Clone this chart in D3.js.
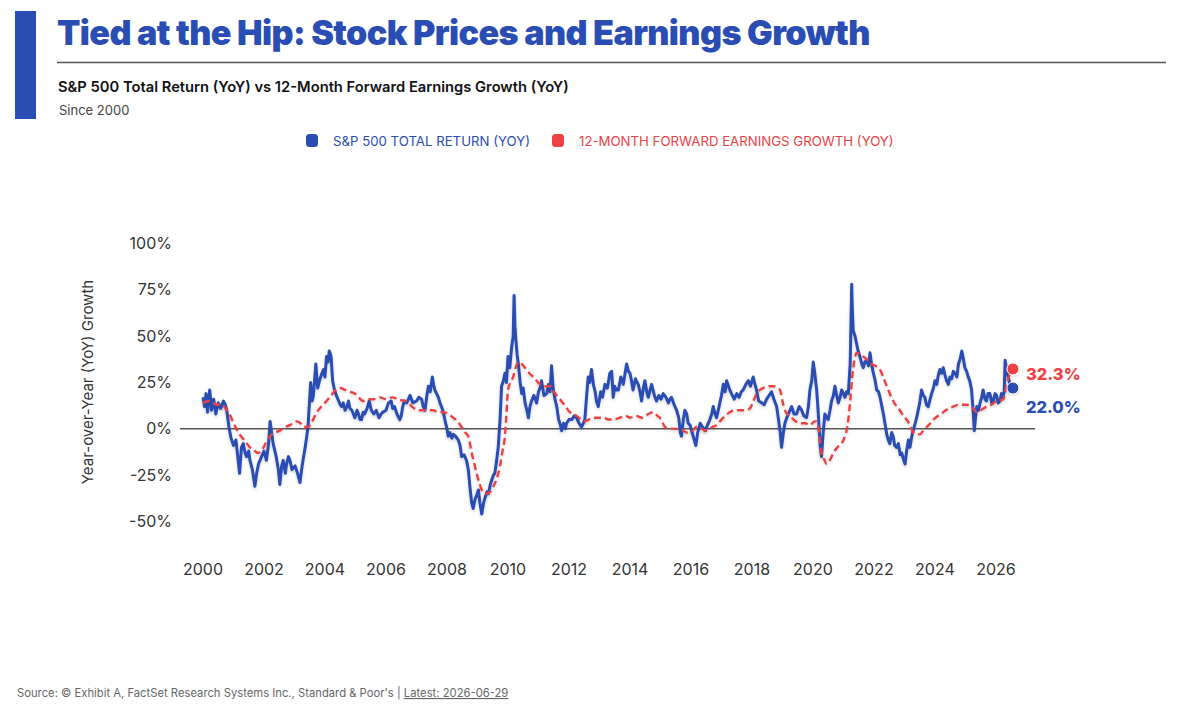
<!DOCTYPE html>
<html>
<head>
<meta charset="utf-8">
<script src="https://cdn.jsdelivr.net/npm/d3@7"></script>
<style>
  body { margin: 0; background: #fff; }
  text { font-family: Inter, "Noto Sans", sans-serif; }
</style>
</head>
<body>
<div id="chart"></div>
<script>
let width = 1200, height = 708;

// S&P 500 total return yoy, [decimal year, %]
const spxTimes = [
  2000.00,2000.05,2000.10,2000.15,2000.22,2000.28,2000.35,2000.42,2000.50,2000.58,2000.67,2000.73,2000.78,2000.85,2000.92,
  2001.00,2001.08,2001.14,2001.20,2001.26,2001.32,2001.38,2001.43,2001.50,2001.54,2001.62,2001.70,2001.76,2001.82,2001.92,
  2002.00,2002.08,2002.15,2002.20,2002.25,2002.30,2002.40,2002.47,2002.52,2002.58,2002.63,2002.70,2002.74,2002.80,2002.85,2002.92,
  2003.02,2003.10,2003.18,2003.25,2003.35,2003.42,2003.45,2003.53,2003.58,2003.62,2003.70,2003.76,2003.82,2003.90,2003.95,
  2004.00,2004.05,2004.10,2004.14,2004.20,2004.25,2004.30,2004.35,2004.40,2004.45,2004.50,2004.55,2004.60,2004.66,2004.72,2004.77,2004.82,2004.88,2004.93,2004.98,
  2005.05,2005.10,2005.15,2005.20,2005.25,2005.30,2005.38,2005.45,2005.52,2005.60,2005.68,2005.77,2005.84,2005.90,
  2006.00,2006.08,2006.17,2006.22,2006.28,2006.36,2006.45,2006.50,2006.55,2006.60,2006.68,2006.79,2006.88,
  2007.00,2007.08,2007.17,2007.22,2007.28,2007.34,2007.39,2007.45,2007.52,2007.56,2007.60,2007.66,2007.72,2007.77,2007.82,2007.88,2007.93,
  2008.00,2008.04,2008.10,2008.16,2008.21,2008.28,2008.37,2008.43,2008.48,2008.56,2008.64,2008.70,2008.75,2008.81,2008.86,2008.92,2008.97,
  2009.03,2009.08,2009.14,2009.20,2009.25,2009.31,2009.36,2009.42,2009.46,2009.52,2009.57,2009.62,2009.68,2009.74,2009.79,2009.85,2009.90,2009.95,
  2010.00,2010.06,2010.12,2010.17,2010.20,2010.23,2010.26,2010.30,2010.34,2010.40,2010.45,2010.50,2010.56,2010.62,2010.67,2010.72,2010.77,2010.85,2010.94,
  2011.00,2011.05,2011.10,2011.18,2011.27,2011.33,2011.38,2011.43,2011.48,2011.54,2011.60,2011.66,2011.72,2011.76,2011.82,2011.88,2011.92,
  2012.00,2012.09,2012.17,2012.25,2012.33,2012.41,2012.47,2012.52,2012.58,2012.63,2012.68,2012.74,2012.80,2012.86,2012.90,2012.96,
  2013.04,2013.10,2013.18,2013.26,2013.34,2013.40,2013.45,2013.50,2013.55,2013.62,2013.70,2013.78,2013.84,2013.89,2013.95,
  2014.00,2014.05,2014.10,2014.18,2014.27,2014.33,2014.38,2014.44,2014.49,2014.55,2014.60,2014.66,2014.71,2014.80,2014.87,2014.95,
  2015.02,2015.09,2015.18,2015.26,2015.31,2015.36,2015.45,2015.53,2015.60,2015.65,2015.69,2015.75,2015.80,2015.86,2015.91,2015.97,
  2016.02,2016.09,2016.16,2016.22,2016.30,2016.38,2016.46,2016.54,2016.62,2016.68,2016.73,2016.79,2016.84,2016.92,
  2017.00,2017.06,2017.12,2017.17,2017.25,2017.33,2017.42,2017.50,2017.58,2017.65,2017.71,2017.80,2017.88,2017.95,
  2018.04,2018.08,2018.15,2018.22,2018.32,2018.40,2018.48,2018.56,2018.64,2018.72,2018.81,2018.87,2018.92,2018.97,
  2019.03,2019.08,2019.14,2019.22,2019.30,2019.38,2019.46,2019.55,2019.63,2019.70,2019.79,2019.85,2019.90,2019.96,
  2020.01,2020.06,2020.12,2020.16,2020.20,2020.24,2020.28,2020.33,2020.39,2020.45,2020.50,2020.56,2020.61,2020.67,2020.72,2020.78,2020.83,2020.89,2020.94,
  2021.00,2021.05,2021.10,2021.16,2021.20,2021.22,2021.25,2021.27,2021.29,2021.32,2021.38,2021.43,2021.48,2021.54,2021.60,2021.65,2021.70,2021.76,2021.82,2021.87,2021.92,2021.98,
  2022.04,2022.09,2022.15,2022.20,2022.26,2022.31,2022.36,2022.42,2022.47,2022.52,2022.58,2022.63,2022.68,2022.74,2022.80,2022.86,2022.91,2022.96,
  2023.02,2023.07,2023.13,2023.18,2023.24,2023.30,2023.35,2023.40,2023.45,2023.50,2023.56,2023.62,2023.67,2023.72,2023.78,2023.84,2023.89,2023.95,
  2024.00,2024.06,2024.11,2024.16,2024.22,2024.27,2024.33,2024.38,2024.44,2024.49,2024.55,2024.60,2024.66,2024.72,2024.77,2024.83,2024.88,2024.93,2024.98,
  2025.04,2025.09,2025.14,2025.20,2025.25,2025.29,2025.33,2025.37,2025.43,2025.48,2025.53,2025.58,2025.64,2025.69,2025.74,2025.80,2025.86,2025.91,2025.97,
  2026.02,2026.07,2026.13,2026.18,2026.22,2026.27,2026.30,2026.35,2026.40,2026.49
];
const spxValues = [
  17,12,19,9,21,10,16,8,14,11,15,13,10,1,-5,
  -9,-6,-15,-24,-10,-8,-13,-15,-12,-17,-22,-31,-24,-19,-15,
  -12,-17,-8,4,-2,-8,-15,-22,-30,-20,-17,-24,-19,-15,-17,-22,
  -20,-24,-29,-20,-10,-2,3,25,15,18,35,22,26,30,32,
  28,39,36,42,39,26,22,19,17,15,13,12,14,10,12,15,11,10,8,6,
  10,8,5,5,9,8,11,15,10,8,10,6,8,9,
  10,14,15,11,12,8,5,7,12,15,14,18,14,
  15,17,16,12,10,18,23,20,28,24,21,19,17,14,12,9,5,
  0,-4,-2,-5,-3,-4,-6,-9,-15,-14,-17,-22,-31,-40,-43,-38,-36,
  -33,-40,-46,-40,-37,-34,-35,-30,-28,-25,-24,-18,-10,5,23,26,30,25,
  39,33,44,50,72,55,48,40,35,25,19,22,14,10,6,12,15,18,14,
  20,22,26,18,19,24,20,34,22,16,12,5,2,-1,3,0,3,
  5,5,7,6,3,1,3,5,18,28,25,32,24,20,15,12,
  20,17,24,22,30,31,17,23,21,21,28,24,30,35,31,
  30,26,21,27,24,20,15,22,26,20,17,21,24,18,15,18,
  16,19,17,14,16,17,13,10,6,-2,-4,5,10,8,3,2,
  -1,-5,-9,-2,3,1,-1,2,5,8,12,8,6,12,
  18,24,20,26,22,19,16,19,17,20,21,24,26,23,
  28,25,21,15,14,13,16,18,20,16,12,5,-1,-10,
  -2,3,6,9,12,8,8,12,10,7,6,12,21,26,
  36,30,21,12,1,-10,-15,-3,8,6,5,10,15,18,23,18,14,17,21,
  19,17,20,19,30,35,60,78,65,53,50,46,42,39,35,33,36,37,34,41,35,30,
  26,21,20,17,12,8,3,-3,-6,-8,-2,-4,-9,-10,-8,-14,-13,-16,
  -19,-12,-6,-10,-4,0,3,6,10,14,21,18,17,13,12,16,19,22,
  26,24,29,32,30,33,29,26,24,28,27,31,30,28,35,38,42,38,33,
  31,28,26,21,10,-1,6,12,10,14,17,21,16,15,19,19,14,15,19,
  18,14,15,19,17,20,37,32,28,22.0
];

// 12-month forward earnings growth yoy, [decimal year, %]
const epsTimes = [
  2000.00,2000.20,2000.45,2000.62,2000.78,2000.90,2001.00,2001.10,2001.20,2001.35,2001.54,2001.70,2001.80,2001.95,
  2002.08,2002.20,2002.35,2002.52,2002.70,2002.85,2003.07,2003.20,2003.30,2003.45,2003.58,2003.70,2003.88,
  2004.05,2004.20,2004.35,2004.50,2004.66,2004.82,2004.98,2005.10,2005.25,2005.45,2005.60,2005.80,
  2006.00,2006.20,2006.45,2006.65,2006.85,2007.05,2007.30,2007.55,2007.70,2007.88,
  2008.05,2008.20,2008.35,2008.48,2008.60,2008.70,2008.81,2008.90,2008.97,2009.06,2009.14,2009.30,2009.42,2009.52,2009.63,2009.74,2009.82,2009.90,2009.95,
  2010.00,2010.08,2010.17,2010.25,2010.34,2010.45,2010.56,2010.70,2010.83,2011.05,2011.20,2011.38,2011.50,2011.60,2011.80,
  2012.03,2012.25,2012.40,2012.52,2012.65,2012.80,2013.00,2013.12,2013.30,2013.45,2013.67,2013.85,
  2014.00,2014.20,2014.40,2014.60,2014.76,2014.90,2014.98,2015.08,2015.15,2015.42,2015.64,2015.86,
  2016.05,2016.18,2016.35,2016.51,2016.70,2016.84,2016.95,2017.06,2017.28,2017.45,2017.60,2017.80,2017.93,
  2018.05,2018.15,2018.37,2018.55,2018.70,2018.85,2018.92,2019.00,2019.08,2019.30,2019.57,2019.75,2019.90,
  2020.06,2020.12,2020.20,2020.28,2020.38,2020.45,2020.55,2020.67,2020.80,2020.94,
  2021.05,2021.10,2021.16,2021.22,2021.30,2021.36,2021.43,2021.55,2021.65,2021.80,2021.92,
  2022.05,2022.20,2022.30,2022.42,2022.52,2022.63,2022.75,2022.85,2022.96,
  2023.07,2023.18,2023.29,2023.40,2023.51,2023.62,2023.73,2023.85,2023.95,
  2024.10,2024.27,2024.45,2024.60,2024.80,2025.04,2025.20,2025.37,2025.50,2025.69,2025.85,
  2026.02,2026.24,2026.35,2026.49
];
const epsValues = [
  14,15,13,13,10,7,3,0,-3,-6,-10,-12,-13,-11,
  -7,-4,-2,-1,1,2,4,3,1,1,4,8,12,
  15,18,21,22,21,20,19,17,15,16,16,17,
  16,17,15.6,15,12,10,10,10,9,9,
  8,6,4,1,-2,-4,-13,-19,-24,-29,-33,-35,-34,-31,-27,-20,-12,-4,8,
  21,25,28,33,36,35,33,30,28,24,23,23,20,18,14,
  9,7,5,4,5,6,6,6,5,5,6,7,
  6,7,6,8,9,7,6,3,1,0,0,-2,
  -1,1,0,-1,1,2,4,6,9,10,10,10,11,
  15,19,22,23,23,22,21,15,10,6,3,3,2,
  4,4,-2,-13,-17,-19,-17,-13,-10,-8,
  -4,-1,5,15,30,37,41,40,39,37,35,
  34,32,28,23,19,15,12,10,7,
  5,2,-2,-3,-3,-1,1,3,5,
  7,9,11,12,13,13,12,9,10,12,13,
  15,16,24,32.3
];

const yTicks = [-50, -25, 0, 25, 50, 75, 100];
const xTicks = [2000, 2002, 2004, 2006, 2008, 2010, 2012, 2014, 2016, 2018, 2020, 2022, 2024, 2026];
const seriesNames = ["S&P 500 TOTAL RETURN (YOY)", "12-MONTH FORWARD EARNINGS GROWTH (YOY)"];

const blue = "#2a4db4", red = "#ee4143", textGray = "#333";

let svg = d3.select("#chart")
  .append("svg")
  .attr("width", width)
  .attr("height", height);

// drop shadow for lines
let defs = svg.append("defs");
let f = defs.append("filter").attr("id", "shadow").attr("x", "-5%").attr("y", "-5%").attr("width", "110%").attr("height", "120%");
f.append("feDropShadow").attr("dx", 0).attr("dy", 1.5).attr("stdDeviation", 1.5)
  .attr("flood-color", "#000").attr("flood-opacity", 0.18);

// fit a text element to a target width
function fitWidth(sel, target) {
  let w = sel.node().getComputedTextLength();
  let fs = parseFloat(sel.attr("font-size"));
  sel.attr("font-size", fs * target / w);
}

// header
svg.append("rect").attr("x", 15).attr("y", 11).attr("width", 21).attr("height", 108).attr("fill", blue);

let title = svg.append("text")
  .attr("x", 57).attr("y", 45)
  .attr("font-size", 32).attr("font-weight", 900)
  .attr("fill", blue)
  .attr("letter-spacing", "-0.6px")
  .text("Tied at the Hip: Stock Prices and Earnings Growth");
fitWidth(title, 811);

svg.append("line").attr("x1", 57).attr("x2", 1166).attr("y1", 62.5).attr("y2", 62.5)
  .attr("stroke", "#555").attr("stroke-width", 1.5);

let sub = svg.append("text")
  .attr("x", 58).attr("y", 92)
  .attr("font-size", 15).attr("font-weight", 600)
  .attr("fill", "#111")
  .text("S&P 500 Total Return (YoY) vs 12-Month Forward Earnings Growth (YoY)");
fitWidth(sub, 511);

svg.append("text").attr("x", 59).attr("y", 115)
  .attr("font-size", 13).attr("fill", "#444")
  .text("Since 2000");

// legend
let legendX = [306, 552];
let legendColors = [blue, red];
seriesNames.forEach(function(name, i) {
  let g = svg.append("g").attr("transform", "translate(" + legendX[i] + ",134)");
  g.append("rect").attr("width", 12).attr("height", 13).attr("rx", 3.5).attr("fill", legendColors[i]);
  let t = g.append("text").attr("x", 27).attr("y", 11.5)
    .attr("font-size", 13).attr("fill", legendColors[i]).text(name);
  fitWidth(t, i == 0 ? 197 : 315);
});

// scales
let x = d3.scaleLinear()
  .domain([1999.246, 2027.28])
  .range([180, 1035]);

let y = d3.scaleLinear()
  .domain([-50, 100])
  .range([521.5, 243.5]);

// y axis labels
svg.append("g").selectAll("text")
  .data(yTicks)
  .enter()
  .append("text")
  .attr("x", 172)
  .attr("y", d => y(d))
  .attr("dy", "0.35em")
  .attr("text-anchor", "end")
  .attr("font-size", 16)
  .attr("fill", textGray)
  .text(d => d + "%");

svg.append("text")
  .attr("transform", "translate(93,382) rotate(-90)")
  .attr("text-anchor", "middle")
  .attr("font-size", 15)
  .attr("fill", textGray)
  .text("Year-over-Year (YoY) Growth");

// x axis labels
svg.append("g").selectAll("text")
  .data(xTicks)
  .enter()
  .append("text")
  .attr("x", d => x(d))
  .attr("y", 575)
  .attr("text-anchor", "middle")
  .attr("font-size", 16)
  .attr("fill", textGray)
  .text(d => d);

// zero line
svg.append("line")
  .attr("x1", x.range()[0]).attr("x2", x.range()[1])
  .attr("y1", y(0)).attr("y2", y(0))
  .attr("stroke", "#555").attr("stroke-width", 1.5);

let spx = spxTimes.map((t, i) => ({t: t, v: spxValues[i]}));
let eps = epsTimes.map((t, i) => ({t: t, v: epsValues[i]}));

let line = d3.line().x(d => x(d.t)).y(d => y(d.v));

svg.append("path")
  .datum(spx)
  .attr("d", line)
  .attr("fill", "none")
  .attr("stroke", blue)
  .attr("stroke-width", 3)
  .attr("stroke-linejoin", "round")
  .attr("filter", "url(#shadow)");

svg.append("path")
  .datum(eps)
  .attr("d", line.curve(d3.curveMonotoneX))
  .attr("fill", "none")
  .attr("stroke", red)
  .attr("stroke-width", 2.4)
  .attr("stroke-dasharray", "7,4")
  .attr("filter", "url(#shadow)");

// end dots + labels
let ends = [
  {d: eps[eps.length - 1], c: red},
  {d: spx[spx.length - 1], c: blue}
];
let labelY = [];
ends.forEach(function(e, i) {
  let cx = x(e.d.t) + 2, cy = y(e.d.v);
  svg.append("circle").attr("cx", cx).attr("cy", cy).attr("r", 6)
    .attr("fill", e.c).attr("stroke", "#fff").attr("stroke-width", 1)
    .attr("filter", "url(#shadow)");
  let ly = cy + 5;
  if (i > 0 && ly < labelY[i - 1] + 33) ly = labelY[i - 1] + 33;
  labelY.push(ly);
  svg.append("text")
    .attr("x", 1026).attr("y", ly)
    .attr("dy", "0.35em")
    .attr("font-size", 16.5).attr("font-weight", 800)
    .attr("fill", e.c)
    .text(e.d.v.toFixed(1) + "%");
});

// source
let src = svg.append("text").attr("x", 17).attr("y", 697)
  .attr("font-size", 14).attr("fill", "#666");
src.append("tspan").text("Source: \u00A9 Exhibit A, FactSet Research Systems Inc., Standard & Poor's | ");
src.append("tspan").attr("text-decoration", "underline").text("Latest: 2026-06-29");
fitWidth(src, 492);
</script>
</body>
</html>
